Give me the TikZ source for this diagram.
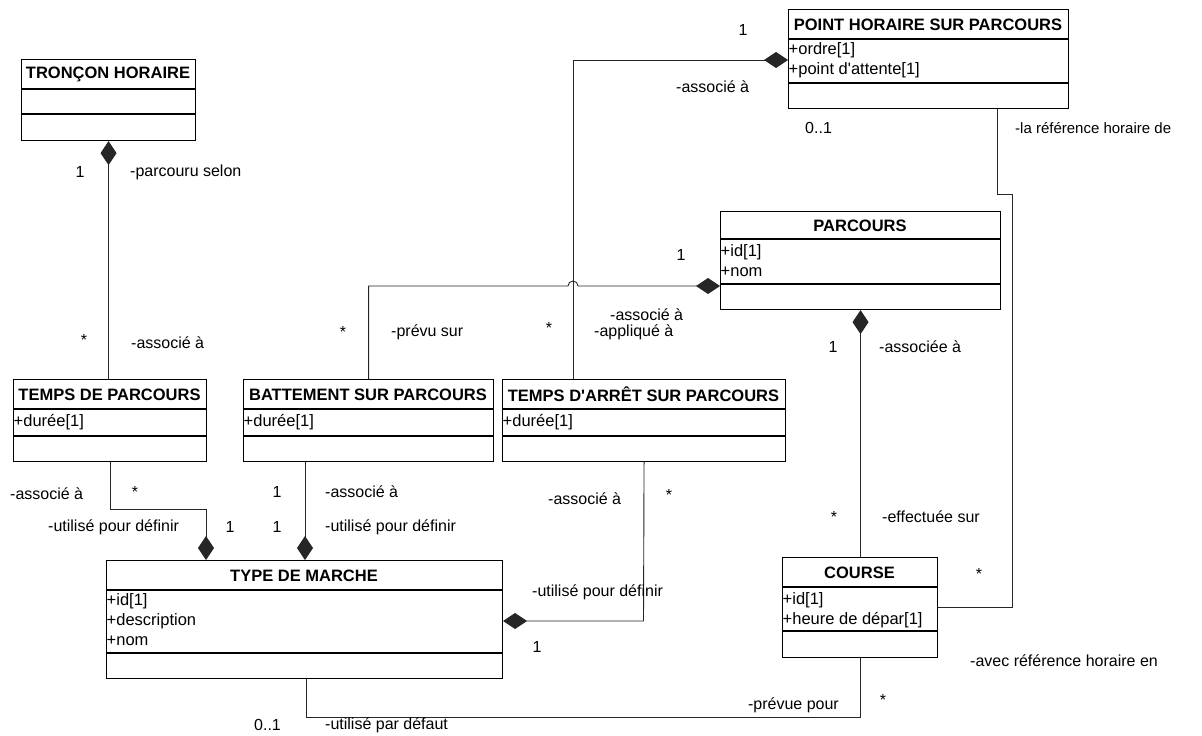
\documentclass[tikz,border=0pt]{standalone}
\usepackage{fontspec}
\setmainfont{Liberation Sans}[Ligatures=TeXOff]
\usetikzlibrary{arrows.meta}

% class box: name, x1, y1, x2, y2, first separator, second separator, title
\newcommand\umlbox[8]{%
  \pgfmathsetmacro\bw{#4-#2}\pgfmathsetmacro\bh{#5-#3}%
  \node[box,minimum width=\bw pt,minimum height=\bh pt] (#1) at (#2,#3) {};
  \draw[sep] (#2,#6) -- (#4,#6);
  \draw[sep] (#2,#7) -- (#4,#7);
  \node[ttl] (#1-t) at ({(#2+#4)/2},{(#3+#6)/2+0.5}) {#8};
}

\begin{document}
\begin{tikzpicture}[x=1pt,y=-1pt,
  box/.style={draw=black,line width=1.1pt,inner sep=0pt,anchor=north west},
  sep/.style={line width=1.1pt},
  ttl/.style={font=\fontsize{16.5}{19}\selectfont\bfseries,inner sep=0pt},
  attr/.style={font=\fontsize{16.5}{19}\selectfont,anchor=west,inner sep=0.5pt},
  lbl/.style={font=\fontsize{16}{18}\selectfont,anchor=west,inner sep=0pt},
  mult/.style={font=\fontsize{16}{18}\selectfont,inner sep=0pt},
  link/.style={line width=0.9pt,draw=black!85},
  dia/.style={link,-{Diamond[length=24pt,width=16pt]}},
  aid/.style={link,{Diamond[length=24pt,width=16pt]}-},
]
\useasboundingbox[fill=white] (0,0) rectangle (1202,736);

% classes
\umlbox{tr}{21}{59}{195}{140}{89}{114}{TRONÇON HORAIRE}
\umlbox{ph}{788}{9}{1068}{108}{39}{83}{POINT HORAIRE SUR PARCOURS}
\node[attr] (ph-a1) at (788,50) {+ordre[1]};
\node[attr] (ph-a2) at (788,70) {+point d'attente[1]};
\umlbox{pa}{720}{211}{1000}{309}{239}{284}{PARCOURS}
\node[attr] (pa-a1) at (720,252) {+id[1]};
\node[attr] (pa-a2) at (720,272) {+nom};
\umlbox{tp}{13}{379}{206}{461}{409}{436}{TEMPS DE PARCOURS}
\node[attr] (tp-a1) at (13,422) {+durée[1]};
\umlbox{ba}{243}{379}{493}{461}{409}{436}{BATTEMENT SUR PARCOURS}
\node[attr] (ba-a1) at (243,422) {+durée[1]};
\umlbox{ta}{502}{379}{785}{461}{409}{436}{TEMPS D'ARRÊT SUR PARCOURS}
\node[attr] (ta-a1) at (502,422) {+durée[1]};
\umlbox{tm}{106}{560}{502}{678}{590}{653}{TYPE DE MARCHE}
\node[attr] (tm-a1) at (106,601) {+id[1]};
\node[attr] (tm-a2) at (106,621) {+description};
\node[attr] (tm-a3) at (106,641) {+nom};
\umlbox{co}{782}{557}{937}{657}{587}{631}{COURSE}
\node[attr] (co-a1) at (782,600) {+id[1]};
\node[attr] (co-a2) at (782,620) {+heure de dépar[1]};

% bend points
\coordinate (k2) at (206,509);
\coordinate (k3) at (305,0);
\coordinate (k4) at (368,286);
\coordinate (hopL) at (568,286);
\coordinate (k5) at (573,60);
\coordinate (k6) at (643.5,621);
\coordinate (k8a) at (1012,194);
\coordinate (k8b) at (997,194);
\coordinate (k9) at (306,717);

% associations
\draw[aid] (tr.south) -- (tr.south |- tp.north);
\draw[dia] (tp.south) |- (k2) -- (k2 |- tm.north);
\draw[dia] (ba.south -| k3) -- (tm.north -| k3);
\draw[dia] (ba.north) |- (hopL) arc[start angle=180,end angle=360,radius=5] -- (k4 -| pa.west);
\draw[dia] (ta.north -| k5) -- (k5) -- (k5 -| ph.west);
\draw[dia] (ta.south) -- (k6) -- (k6 -| tm.east);
\draw[aid] (pa.south) -- (pa.south |- co.north);
\draw[link] (co.east) -| (k8a) -- (k8b) -- (k8b |- ph.south);
\draw[link] (k9 |- tm.south) -- (k9) -| (co.south);

% role names and multiplicities
\node[mult] (m1) at (80,172) {1};
\node[lbl] (r1) at (130,172) {-parcouru selon};
\node[mult] (m2) at (84,340) {*};
\node[lbl] (r2) at (131,343) {-associé à};

\node[lbl] (r3) at (10,494) {-associé à};
\node[mult] (m3) at (135,492) {*};
\node[lbl] (r4) at (48,527) {-utilisé pour définir};
\node[mult] (m4) at (230,527) {1};

\node[mult] (m5) at (277,492) {1};
\node[lbl] (r5) at (325,492) {-associé à};
\node[mult] (m6) at (277,527) {1};
\node[lbl] (r6) at (325,527) {-utilisé pour définir};

\node[mult] (m7) at (343,332) {*};
\node[lbl] (r7) at (391,332) {-prévu sur};
\node[mult] (m8) at (681,255) {1};
\node[lbl] (r8) at (610,315) {-associé à};

\node[mult] (m9) at (549,328) {*};
\node[lbl] (r9) at (594,332) {-appliqué à};
\node[mult] (m10) at (743,30) {1};
\node[lbl] (r10) at (676,87) {-associé à};

\node[lbl] (r11) at (548,499) {-associé à};
\node[mult] (m11) at (669,495) {*};
\node[lbl] (r12) at (532,592) {-utilisé pour définir};
\node[mult] (m12) at (537,647) {1};

\node[mult] (m13) at (833,347) {1};
\node[lbl] (r13) at (879,347) {-associée à};
\node[mult] (m14) at (834,517) {*};
\node[lbl] (r14) at (882,517) {-effectuée sur};

\node[lbl] (m15) at (805,128) {0..1};
\node[lbl,font=\fontsize{15}{18}\selectfont] (r15) at (1015,128) {-la référence horaire de};
\node[mult] (m16) at (979,574) {*};
\node[lbl] (r16) at (970,661) {-avec référence horaire en};

\node[lbl] (m17) at (254,725) {0..1};
\node[lbl] (r17) at (325,725) {-utilisé par défaut};
\node[lbl,anchor=east] (r18) at (839,705) {-prévue pour};
\node[mult] (m18) at (883,700) {*};
\end{tikzpicture}
\end{document}
